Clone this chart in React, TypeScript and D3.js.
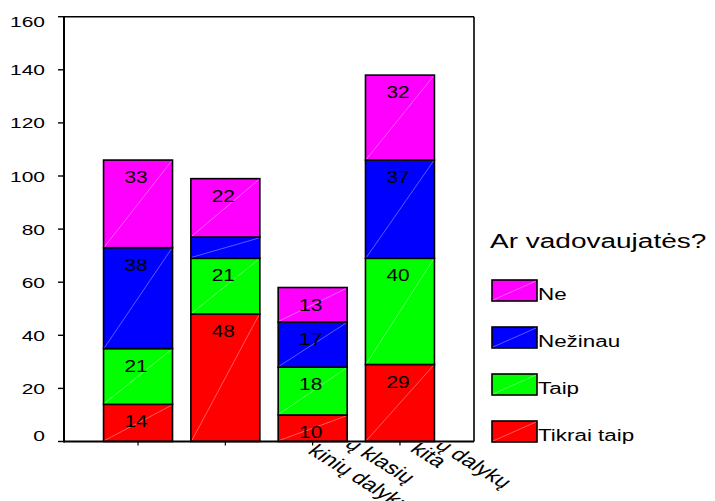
import React from "react";
import * as d3 from "d3";

const categories = ["cat1", "cat2", "cat3", "cat4"];
// visible fragments of rotated category labels (rest hidden behind the axis)
const categoryLabelLines = [[], [], ["ų klasių", "kinių dalykų"], ["ų dalykų", "kita"]];
const seriesNames = ["Tikrai taip", "Taip", "Nežinau", "Ne"];
const tikraiTaip = [14, 48, 10, 29];
const taip = [21, 21, 18, 40];
const nezinau = [38, 8, 17, 37];
const ne = [33, 22, 13, 32];
const yTicks = [0, 20, 40, 60, 80, 100, 120, 140, 160];
const legendTitle = "Ar vadovaujatės?";

const COLORS = ["#FF0000", "#00FF00", "#0000FF", "#FF00FF"];
const FONT = "'Liberation Sans', Arial, Helvetica, sans-serif";
const SX = 1.4;
const LABEL_ANGLE = 41;

// per-fragment placement offsets relative to the tick (dx, dy from axis)
const LABEL_OFFSETS: Record<number, [number, number][]> = {
  2: [[31, 4], [-6, 11]],
  3: [[34, 5], [9, 9]],
};

function SText(props: { x: number; y: number; anchor?: string; size: number; sx?: number; children: any; fill?: string }) {
  const { x, y, anchor = "start", size, sx = SX, children, fill = "#000" } = props;
  return (
    <text
      transform={`translate(${x},${y}) scale(${sx},1)`}
      textAnchor={anchor}
      fontSize={size}
      fontFamily={FONT}
      fill={fill}
    >
      {children}
    </text>
  );
}

export default function App() {
  const W = 715, H = 501;
  const left = 64, right = 474, top = 16.7, bottom = 441.5;
  const y = d3.scaleLinear().domain([0, 160]).range([bottom, top]);
  const x = d3.scalePoint<string>().domain(categories).range([left, right]).padding(0.848);
  const barW = x.step() * 0.79;

  const table = categories.map((c, i) => ({
    cat: c,
    "Tikrai taip": tikraiTaip[i],
    Taip: taip[i],
    "Nežinau": nezinau[i],
    Ne: ne[i],
  }));
  const stack = d3.stack<any>().keys(seriesNames)(table);

  const legendOrder = [3, 2, 1, 0];

  return (
    <svg width={W} height={H} style={{ position: "absolute", left: 0, top: 0, background: "#fff" }}>
      <defs>
        <clipPath id="belowAxis">
          <rect x={0} y={bottom + 1.5} width={W} height={H} />
        </clipPath>
      </defs>
      <rect x={0} y={0} width={W} height={H} fill="#fff" />

      {/* bars */}
      {stack.map((layer, si) =>
        layer.map((d, ci) => {
          const cx = x(categories[ci])!;
          const x0 = cx - barW / 2;
          const y0 = y(d[1]);
          const y1 = y(d[0]);
          const h = y1 - y0;
          const v = d[1] - d[0];
          return (
            <g key={`${si}-${ci}`}>
              <rect x={x0} y={y0} width={barW} height={h} fill={COLORS[si]} stroke="#000" strokeWidth={1.6} />
              <line x1={x0 + 1} y1={y1 - 1} x2={x0 + barW - 1} y2={y0 + 1} stroke="#fff" strokeOpacity={0.45} strokeWidth={0.8} />
              {h >= 24 && (
                <SText x={cx - 2} y={y0 + 23} anchor="middle" size={16} sx={1.3}>
                  {v}
                </SText>
              )}
            </g>
          );
        })
      )}

      {/* frame */}
      <line x1={left} y1={top} x2={right} y2={top} stroke="#000" strokeWidth={1.6} />
      <line x1={right} y1={top} x2={right} y2={bottom} stroke="#000" strokeWidth={1.6} />
      <line x1={left} y1={bottom} x2={right} y2={bottom} stroke="#000" strokeWidth={1.8} />
      <line x1={left} y1={top - 0.8} x2={left} y2={bottom + 0.9} stroke="#000" strokeWidth={2} />

      {/* y ticks */}
      {yTicks.map((t) => {
        const ty = y(t);
        const ly = Math.min(Math.max(ty, 21), 435) + 5.5;
        return (
          <g key={t}>
            <line x1={58} x2={left} y1={ty} y2={ty} stroke="#000" strokeWidth={1.4} />
            <SText x={45} y={ly} anchor="end" size={15}>
              {t}
            </SText>
          </g>
        );
      })}

      {/* x ticks */}
      {categories.map((c) => (
        <line key={c} x1={x(c)!} x2={x(c)!} y1={bottom} y2={bottom + 4} stroke="#000" strokeWidth={1.2} />
      ))}

      {/* rotated category labels */}
      <g clipPath="url(#belowAxis)">
        {categoryLabelLines.map((lines, ci) =>
          lines.map((ln, li) => {
            const off = (LABEL_OFFSETS[ci] || [])[li] || [0, 0];
            const px = x(categories[ci])! + off[0];
            const py = bottom + off[1];
            return (
              <text
                key={`${ci}-${li}`}
                transform={`translate(${px},${py}) scale(${SX},1) rotate(${LABEL_ANGLE})`}
                fontSize={17.5}
                fontFamily={FONT}
                fill="#000"
              >
                {ln}
              </text>
            );
          })
        )}
      </g>

      {/* legend */}
      <SText x={490} y={248} size={20}>
        {legendTitle}
      </SText>
      {legendOrder.map((si, i) => {
        const ly = 280 + i * 47;
        return (
          <g key={si}>
            <rect x={492} y={ly} width={45} height={21} fill={COLORS[si]} stroke="#000" strokeWidth={1.6} />
            <line x1={493} y1={ly + 20} x2={536} y2={ly + 1} stroke="#fff" strokeOpacity={0.45} strokeWidth={0.8} />
            <SText x={538} y={ly + 20} size={16}>
              {seriesNames[si]}
            </SText>
          </g>
        );
      })}
    </svg>
  );
}
